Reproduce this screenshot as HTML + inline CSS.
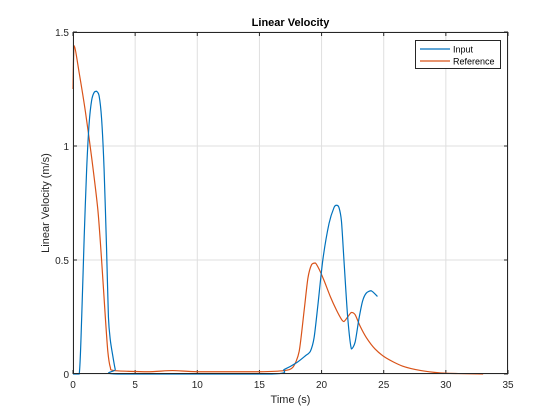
<!DOCTYPE html>
<html><head><meta charset="utf-8"><style>body{margin:0;background:#fff}svg{display:block;font-family:"Liberation Sans",sans-serif}</style></head>
<body>
<svg id="c" width="560" height="420"></svg>
<script>
const xTicks=[0,5,10,15,20,25,30,35];
const yTicks=[0,0.5,1,1.5];
const yTickLabels=["0","0.5","1","1.5"];
const inputT=[0,0.5,0.7,0.9,1.1,1.3,1.5,1.7,1.9,2.1,2.3,2.5,2.7,2.85,3.0,3.2,3.4,3.6,16,17,18,18.7,19.1,19.4,19.7,20.1,20.6,21.0,21.2,21.4,21.6,21.8,22.1,22.4,22.7,23.0,23.3,23.6,24.0,24.5];
const inputV=[0,0,0.25,0.6,0.9,1.1,1.2,1.235,1.24,1.22,1.12,0.9,0.55,0.25,0.15,0.08,0.02,0,0,0.02,0.05,0.08,0.1,0.16,0.3,0.5,0.66,0.73,0.74,0.73,0.67,0.5,0.25,0.11,0.14,0.24,0.32,0.355,0.365,0.34];
const refT=[0,0.1,0.5,1.0,1.5,2.0,2.3,2.6,2.8,3.0,3.3,6,8,10,15,17,17.7,18.2,18.6,18.9,19.2,19.5,19.8,20.2,20.7,21.2,21.6,21.8,22.1,22.4,22.7,23.1,23.6,24.3,25.2,26.5,28,29.5,31,33];
const refV=[1.25,1.44,1.32,1.15,0.95,0.72,0.5,0.25,0.1,0.03,0.015,0.01,0.015,0.01,0.01,0.015,0.03,0.1,0.28,0.42,0.48,0.487,0.46,0.41,0.34,0.28,0.24,0.23,0.25,0.27,0.26,0.21,0.16,0.11,0.07,0.035,0.015,0.005,0.002,0];
const L=73,R=508,T=32,B=374;
const X=t=>L+(t-0)/35*(R-L), Y=v=>B-v/1.5*(B-T);
const s=document.getElementById('c');const NS='http://www.w3.org/2000/svg';
function mk(tag,a,txt){const e=document.createElementNS(NS,tag);for(const k in a)e.setAttribute(k,a[k]);if(txt!==undefined)e.textContent=txt;s.appendChild(e);return e;}
mk('rect',{x:L,y:T,width:R-L,height:B-T,fill:'#fff'});
xTicks.forEach(t=>{const g=mk('line',{x1:X(t),x2:X(t),y1:T,y2:B,stroke:'#dfdfdf','stroke-width':1});

mk('line',{x1:X(t),x2:X(t),y1:B,y2:B-4,stroke:'#262626'});
mk('line',{x1:X(t),x2:X(t),y1:T,y2:T+4,stroke:'#262626'});
const tx=mk('text',{x:X(t),y:B+14,'font-size':10,'text-anchor':'middle',fill:'#262626'},String(t));
});
yTicks.forEach((v,i)=>{const g=mk('line',{x1:L,x2:R,y1:Y(v),y2:Y(v),stroke:'#dfdfdf','stroke-width':1});

mk('line',{x1:L,x2:L+4,y1:Y(v),y2:Y(v),stroke:'#262626'});
mk('line',{x1:R,x2:R-4,y1:Y(v),y2:Y(v),stroke:'#262626'});
const tx=mk('text',{x:L-4,y:Y(v)+4,'font-size':10,'text-anchor':'end',fill:'#262626'},yTickLabels[i]);
});
function line(ts,vs,c,n){const P=ts.map((t,i)=>[X(t),Y(vs[i])]);let d='M'+P[0][0]+','+P[0][1];
const cl=(y,a,b)=>Math.min(Math.max(a,b),Math.max(Math.min(a,b),y));
for(let i=0;i<P.length-1;i++){const p0=P[Math.max(0,i-1)],p1=P[i],p2=P[i+1],p3=P[Math.min(P.length-1,i+2)];const k=1/8;
const c1y=cl(p1[1]+(p2[1]-p0[1])*k,p1[1],p2[1]),c2y=cl(p2[1]-(p3[1]-p1[1])*k,p1[1],p2[1]);
d+=` C${p1[0]+(p2[0]-p0[0])*k},${c1y} ${p2[0]-(p3[0]-p1[0])*k},${c2y} ${p2[0]},${p2[1]}`;}
const p=mk('path',{d:d,fill:'none',stroke:c,'stroke-width':1.2,'stroke-linejoin':'round'});
}
line(refT,refV,'#d95319','reference-line');
line(inputT,inputV,'#0072bd','input-line');
const box=mk('rect',{x:L+0.5,y:T+0.5,width:R-L-1,height:B-T-1,fill:'none',stroke:'#262626'});

const ti=mk('text',{x:(L+R)/2,y:26,'font-size':11,'font-weight':'bold','text-anchor':'middle',fill:'#000'},'Linear Velocity');

const xl=mk('text',{x:(L+R)/2,y:403,'font-size':11,'text-anchor':'middle',fill:'#262626'},'Time (s)');

const yl=mk('text',{x:0,y:0,'font-size':11,'text-anchor':'middle',fill:'#262626',transform:`translate(49,${(T+B)/2}) rotate(-90)`},'Linear Velocity (m/s)');

const lg=mk('rect',{x:415.5,y:40.5,width:85,height:28,fill:'#fff',stroke:'#262626'});

[['Input','#0072bd',49],['Reference','#d95319',61]].forEach(([n,c,y])=>{
mk('line',{x1:420,x2:450,y1:y,y2:y,stroke:c,'stroke-width':1.2});
const t=mk('text',{x:453,y:y+3.5,'font-size':9,fill:'#000'},n);
});
</script>
</body></html>
